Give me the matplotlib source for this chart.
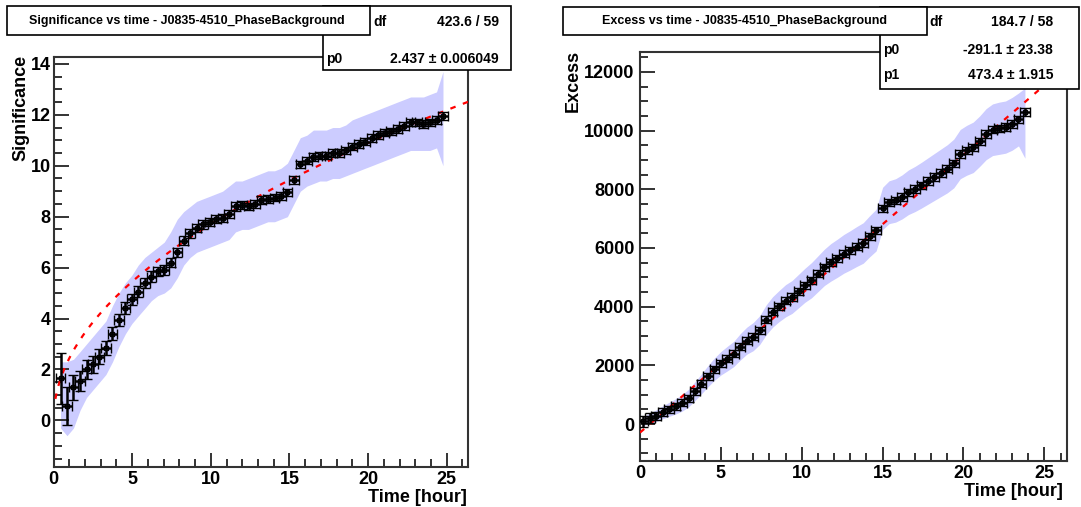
import matplotlib
matplotlib.use("Agg")
import matplotlib.pyplot as plt
import numpy as np
from matplotlib.ticker import MultipleLocator
from matplotlib.patches import Rectangle

# ---------------- data ----------------
sig_time = [0.45, 0.86, 1.27, 1.69, 2.10, 2.51, 2.92, 3.33, 3.75, 4.16,
            4.57, 4.98, 5.39, 5.81, 6.22, 6.63, 7.04, 7.45, 7.87, 8.28,
            8.69, 9.10, 9.51, 9.93, 10.34, 10.75, 11.16, 11.57, 11.99, 12.40,
            12.81, 13.22, 13.63, 14.05, 14.46, 14.87, 15.28, 15.69, 16.11, 16.52,
            16.93, 17.34, 17.75, 18.17, 18.58, 18.99, 19.40, 19.81, 20.23, 20.64,
            21.05, 21.46, 21.87, 22.29, 22.70, 23.11, 23.52, 23.93, 24.35, 24.76]
sig_value = [1.65, 0.55, 1.30, 1.55, 2.00, 2.20, 2.50, 2.85, 3.40, 3.95,
             4.40, 4.75, 5.05, 5.40, 5.65, 5.85, 5.90, 6.20, 6.60, 7.05,
             7.35, 7.55, 7.70, 7.80, 7.90, 7.95, 8.10, 8.40, 8.45, 8.40,
             8.50, 8.65, 8.70, 8.75, 8.80, 8.95, 9.45, 10.05, 10.20, 10.35,
             10.40, 10.40, 10.50, 10.50, 10.60, 10.75, 10.85, 10.95, 11.10, 11.20,
             11.30, 11.35, 11.45, 11.55, 11.70, 11.70, 11.65, 11.70, 11.80, 11.95]
sig_error = [1.00, 0.75, 0.50, 0.40, 0.36, 0.33, 0.30, 0.28, 0.26, 0.24,
             0.23, 0.22, 0.21, 0.20, 0.20, 0.19, 0.19, 0.18, 0.18, 0.18,
             0.17, 0.17, 0.17, 0.16, 0.16, 0.16, 0.16, 0.16, 0.15, 0.15,
             0.15, 0.15, 0.15, 0.15, 0.15, 0.15, 0.15, 0.15, 0.15, 0.15,
             0.15, 0.15, 0.15, 0.15, 0.15, 0.15, 0.15, 0.15, 0.15, 0.15,
             0.15, 0.15, 0.15, 0.15, 0.15, 0.15, 0.15, 0.15, 0.15, 0.15]
sig_band_lo = [-0.3, -0.6, -0.3, 0.4, 0.9, 1.2, 1.5, 1.8, 2.3, 2.9,
               3.4, 3.8, 4.1, 4.4, 4.7, 4.9, 5.0, 5.2, 5.6, 6.1,
               6.4, 6.6, 6.7, 6.8, 6.9, 7.0, 7.1, 7.4, 7.5, 7.5,
               7.6, 7.7, 7.8, 7.8, 7.9, 8.0, 8.5, 9.0, 9.2, 9.3,
               9.4, 9.4, 9.5, 9.5, 9.6, 9.7, 9.8, 9.9, 10.0, 10.1,
               10.2, 10.3, 10.4, 10.5, 10.6, 10.6, 10.6, 10.6, 10.7, 10.0]
sig_band_hi = [2.3, 2.3, 2.4, 2.7, 3.0, 3.3, 3.6, 3.9, 4.5, 5.0,
               5.4, 5.7, 6.1, 6.4, 6.6, 6.8, 7.0, 7.4, 7.9, 8.2,
               8.4, 8.6, 8.7, 8.8, 8.9, 9.0, 9.2, 9.4, 9.4, 9.5,
               9.6, 9.7, 9.8, 9.8, 9.9, 10.1, 10.6, 11.1, 11.2, 11.4,
               11.4, 11.4, 11.5, 11.5, 11.6, 11.8, 11.9, 12.0, 12.1, 12.2,
               12.3, 12.4, 12.5, 12.6, 12.7, 12.7, 12.7, 12.8, 12.9, 13.7]
sig_fit_p0 = 2.437

exc_time = [0.2, 0.6, 1.0, 1.4, 1.8, 2.2, 2.6, 3.0, 3.4, 3.8,
            4.2, 4.6, 5.0, 5.4, 5.8, 6.2, 6.6, 7.0, 7.4, 7.8,
            8.2, 8.6, 9.0, 9.4, 9.8, 10.2, 10.6, 11.0, 11.4, 11.8,
            12.2, 12.6, 13.0, 13.4, 13.8, 14.2, 14.6, 15.0, 15.4, 15.8,
            16.2, 16.6, 17.0, 17.4, 17.8, 18.2, 18.6, 19.0, 19.4, 19.8,
            20.2, 20.6, 21.0, 21.4, 21.8, 22.2, 22.6, 23.0, 23.4, 23.8]
exc_value = [90, 200, 280, 400, 500, 600, 720, 880, 1120, 1370,
             1630, 1870, 2070, 2230, 2390, 2630, 2840, 2980, 3200, 3550,
             3820, 4020, 4200, 4330, 4530, 4730, 4900, 5120, 5340, 5510,
             5650, 5800, 5920, 6050, 6170, 6400, 6610, 7350, 7560, 7620,
             7740, 7900, 8010, 8140, 8280, 8420, 8560, 8700, 8880, 9200,
             9330, 9430, 9640, 9880, 10030, 10080, 10120, 10230, 10380, 10630]
exc_error = [200, 160, 140, 130, 125, 120, 120, 120, 120, 120,
             120, 120, 120, 120, 120, 120, 120, 120, 120, 120,
             120, 120, 120, 120, 120, 120, 120, 120, 120, 120,
             120, 120, 120, 120, 120, 120, 120, 125, 125, 125,
             125, 125, 125, 125, 125, 125, 125, 125, 125, 125,
             125, 125, 125, 125, 125, 125, 125, 125, 125, 130]
exc_band_lo = [-60, 20, 80, 180, 260, 340, 440, 580, 800, 1030,
               1270, 1490, 1670, 1810, 1960, 2180, 2380, 2500, 2710, 3040,
               3300, 3490, 3650, 3770, 3960, 4150, 4300, 4510, 4720, 4870,
               5000, 5140, 5250, 5370, 5480, 5700, 5900, 6630, 6830, 6880,
               6990, 7140, 7240, 7360, 7490, 7620, 7750, 7880, 8050, 8360,
               8480, 8570, 8780, 9010, 9150, 9190, 9230, 9330, 9480, 9060]
exc_band_hi = [240, 380, 480, 620, 740, 860, 1000, 1180, 1440, 1710,
               1990, 2250, 2470, 2650, 2820, 3080, 3300, 3460, 3690, 4060,
               4340, 4550, 4750, 4890, 5100, 5310, 5500, 5730, 5960, 6150,
               6300, 6460, 6590, 6730, 6860, 7100, 7320, 8070, 8290, 8360,
               8490, 8660, 8780, 8920, 9070, 9220, 9370, 9520, 9710, 10040,
               10180, 10290, 10500, 10750, 10910, 10970, 11010, 11130, 11280, 11450]
exc_fit_p0 = -291.1
exc_fit_p1 = 473.4

left_title = "Significance vs time - J0835-4510_PhaseBackground"
right_title = "Excess vs time - J0835-4510_PhaseBackground"
# the "χ² / n" part of the first stats label is hidden behind the title box
left_stats = [("df", "423.6 / 59"), ("p0", "2.437 ± 0.006049")]
right_stats = [("df", "184.7 / 58"), ("p0", "-291.1 ± 23.38"), ("p1", "473.4 ± 1.915")]

# ---------------- style ----------------
plt.rcParams['font.family'] = ['Liberation Sans', 'DejaVu Sans']
plt.rcParams['font.weight'] = 'bold'
W, H = 1081, 507
fig = plt.figure(figsize=(W / 100, H / 100), dpi=100)

def fx(px):
    return px / W

def fy(py):
    return 1 - py / H

BAND = '#ccccff'
FRAME = '#333333'
STAT_FS = 10
TITLE_FS = 9


def style_axes(ax, ymajor, yminor, ypad, xpad):
    for s in ax.spines.values():
        s.set_linewidth(1.5)
        s.set_color(FRAME)
    ax.xaxis.set_major_locator(MultipleLocator(5))
    ax.xaxis.set_minor_locator(MultipleLocator(1))
    ax.yaxis.set_major_locator(MultipleLocator(ymajor))
    ax.yaxis.set_minor_locator(MultipleLocator(yminor))
    ax.tick_params(axis='both', which='both', direction='in', top=False, right=False,
                   color=FRAME, width=1.4, labelsize=13)
    ax.tick_params(axis='y', which='major', length=11, pad=ypad)
    ax.tick_params(axis='y', which='minor', length=6)
    ax.tick_params(axis='x', which='major', length=10, pad=xpad)
    ax.tick_params(axis='x', which='minor', length=6)
    for lab in ax.get_xticklabels() + ax.get_yticklabels():
        lab.set_fontweight('bold')


def draw_panel(ax, t, v, e, lo, hi, fit_t, fit_v):
    ax.fill_between(t, lo, hi, color=BAND, lw=0, zorder=1)
    ax.plot(fit_t, fit_v, color='red', lw=1.6, ls=(0, (2.5, 3.5)), zorder=3)
    ax.errorbar(t, v, yerr=e, xerr=0.3, fmt='s', ms=3.2, mfc='none', mec='black',
                mew=1.0, ecolor='black', elinewidth=1.8, capsize=3.5, capthick=1.8,
                color='black', zorder=4)


# ----- left panel -----
axL = fig.add_axes([fx(53.5), fy(467), fx(468 - 53.5), (467 - 57) / H])
fitL_t = np.linspace(0.12, 26.35, 300)
draw_panel(axL, sig_time, sig_value, sig_error, sig_band_lo, sig_band_hi,
           fitL_t, sig_fit_p0 * np.sqrt(fitL_t))
axL.set_xlim(0, 26.35)
axL.set_ylim(-1.83, 14.27)
style_axes(axL, 2, 0.5, 2, 3)

# ----- right panel -----
axR = fig.add_axes([fx(640), fy(461), fx(1067 - 640), (461 - 52) / H])
fitR_t = np.linspace(0.0, 26.4, 300)
draw_panel(axR, exc_time, exc_value, exc_error, exc_band_lo, exc_band_hi,
           fitR_t, exc_fit_p0 + exc_fit_p1 * fitR_t)
axR.set_xlim(0, 26.4)
axR.set_ylim(-1260, 12680)
style_axes(axR, 2000, 500, 4, 3)

# axis titles
fig.text(fx(21), fy(55), "Significance", rotation=90, ha='center', va='top',
         fontsize=13, fontweight='bold')
fig.text(fx(467), fy(497), "Time [hour]", ha='right', va='center', fontsize=13, fontweight='bold')
fig.text(fx(573), fy(50), "Excess", rotation=90, ha='center', va='top',
         fontsize=13, fontweight='bold')
fig.text(fx(1063), fy(492), "Time [hour]", ha='right', va='center', fontsize=13, fontweight='bold')


def box(x0, y0, x1, y1, z):
    r = Rectangle((fx(x0), fy(y1)), fx(x1 - x0), (y1 - y0) / H, transform=fig.transFigure,
                  facecolor='white', edgecolor='black', lw=1.2, zorder=z)
    fig.patches.append(r)


# stats boxes (under title boxes)
box(323, 6, 511, 70, 10)
fig.text(fx(373), fy(22), left_stats[0][0], ha='left', va='center', fontsize=STAT_FS,
         fontweight='bold', zorder=11)
fig.text(fx(499), fy(22), left_stats[0][1], ha='right', va='center', fontsize=STAT_FS,
         fontweight='bold', zorder=11)
fig.text(fx(326), fy(59), left_stats[1][0], ha='left', va='center', fontsize=STAT_FS,
         fontweight='bold', zorder=11)
fig.text(fx(499), fy(59), left_stats[1][1], ha='right', va='center', fontsize=STAT_FS,
         fontweight='bold', zorder=11)

box(880, 7, 1079, 89, 10)
rows_y = [22, 50, 75]
for i, ((lab, val), yy) in enumerate(zip(right_stats, rows_y)):
    lx = 929 if i == 0 else 883
    fig.text(fx(lx), fy(yy), lab, ha='left', va='center', fontsize=STAT_FS,
             fontweight='bold', zorder=11)
    fig.text(fx(1053), fy(yy), val, ha='right', va='center', fontsize=STAT_FS,
             fontweight='bold', zorder=11)

# title boxes
box(7, 6, 370, 35, 20)
fig.text(fx(187), fy(21), left_title, ha='center', va='center', fontsize=TITLE_FS,
         fontweight='bold', zorder=21)
box(563, 7, 927, 35, 20)
fig.text(fx(745), fy(21), right_title, ha='center', va='center', fontsize=TITLE_FS,
         fontweight='bold', zorder=21)

fig.savefig("out.png", dpi=100)
